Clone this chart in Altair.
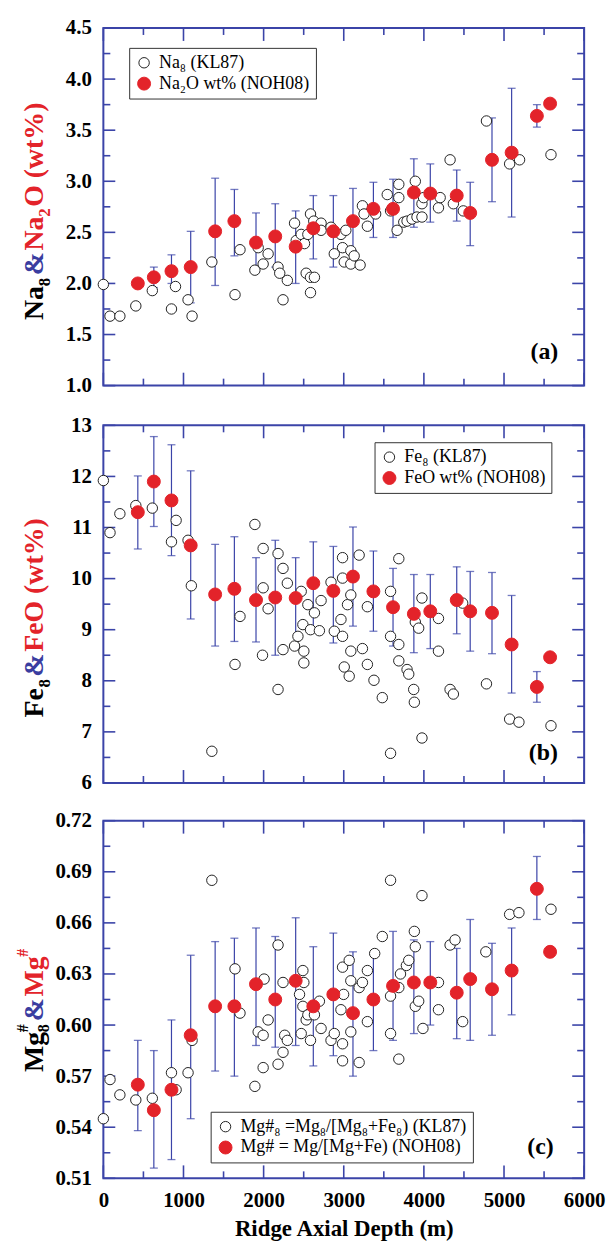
import altair as alt
import pandas as pd

FONT = "Liberation Serif, Times New Roman, serif"
BLUE = "#3b44a8"
AMP = "#3a3da0"
RED = "#e3232a"
INK = "#222222"
W, H = 484, 360

# NOH08 depth bins (shared by all three panels)
noh_depth = [430, 630, 850, 1090, 1395, 1635, 1905, 2145, 2400, 2620, 2870,
             3115, 3370, 3615, 3875, 4080, 4410, 4578, 4850, 5095, 5410, 5575]

# (a) Na
na_noh = [2.00, 2.06, 2.12, 2.16, 2.51, 2.61, 2.40, 2.46, 2.36, 2.54, 2.51,
          2.61, 2.73, 2.73, 2.89, 2.88, 2.86, 2.69, 3.21, 3.28, 3.64, 3.76]
na_lo = [None, 1.96, 2.00, 1.81, 1.98, 2.27, 2.11, 2.16, 2.00, 2.24, 2.16,
         2.32, 2.45, 2.45, 2.55, 2.60, 2.61, 2.37, 2.80, 2.65, 3.53, None]
na_hi = [None, 2.16, 2.28, 2.51, 3.03, 2.92, 2.69, 2.78, 2.71, 2.86, 2.86,
         2.93, 2.99, 3.02, 3.22, 3.17, 3.11, 2.99, 3.62, 3.91, 3.75, None]
na_kl_depth = [0, 83, 206, 405, 611, 850, 900, 1057, 1107, 1354, 1643, 1705, 1891, 1932,
               1994, 2056, 2180, 2201, 2242, 2296, 2386, 2407, 2469, 2510, 2531, 2552,
               2585, 2585, 2585, 2626, 2634, 2717, 2717, 2841, 2882, 2965, 2985, 3006,
               3026, 3088, 3088, 3130, 3204, 3233, 3253, 3295, 3398, 3543, 3584, 3666,
               3687, 3687, 3749, 3790, 3852, 3893, 3914, 3976, 3976, 3996, 4182, 4203,
               4327, 4368, 4492, 4781, 5070, 5194, 5586]
na_kl = [1.99, 1.68, 1.68, 1.78, 1.93, 1.75, 1.97, 1.84, 1.68, 2.21, 1.89, 2.33, 2.13, 2.35,
         2.19, 2.29, 2.16, 2.10, 1.84, 2.03, 2.59, 2.42, 2.48, 2.39, 2.10, 2.48,
         2.06, 1.91, 2.68, 2.61, 2.06, 2.59, 2.52, 2.55, 2.29, 2.48, 2.35, 2.21,
         2.52, 2.32, 2.19, 2.27, 2.18, 2.76, 2.68, 2.56, 2.68, 2.87, 2.71, 2.52,
         2.97, 2.84, 2.60, 2.61, 2.63, 3.00, 2.65, 2.65, 2.78, 2.84, 2.74, 2.84,
         3.21, 2.78, 2.71, 3.59, 3.17, 3.21, 3.26]

# (b) Fe
fe_noh = [11.30, 11.90, 11.53, 10.65, 9.69, 9.80, 9.58, 9.63, 9.62, 9.91, 9.76,
          10.04, 9.75, 9.44, 9.31, 9.36, 9.58, 9.36, 9.33, 8.71, 7.88, 8.46]
fe_lo = [10.58, 11.02, 10.45, 9.21, 8.68, 8.77, 8.76, 8.50, 8.68, 9.03, 8.74,
         9.07, 8.97, 8.68, 8.55, 8.63, 8.92, 8.58, 8.53, 7.76, 7.58, None]
fe_hi = [12.01, 12.78, 12.62, 12.11, 10.67, 10.82, 10.41, 10.75, 10.41, 10.72, 10.63,
         11.01, 10.54, 10.20, 10.08, 10.08, 10.23, 10.14, 10.12, 9.67, 8.18, None]
fe_kl_depth = [0, 83, 206, 405, 611, 850, 908, 1057, 1098, 1354, 1643, 1705, 1891, 1994,
               1994, 1986, 2056, 2180, 2180, 2242, 2296, 2242, 2386, 2428, 2469, 2490,
               2502, 2502, 2552, 2585, 2634, 2696, 2717, 2841, 2882, 2985, 2985, 2985,
               3006, 2965, 3047, 3068, 3088, 3088, 3192, 3233, 3295, 3295, 3377, 3481,
               3584, 3584, 3584, 3687, 3687, 3687, 3790, 3811, 3873, 3881, 3893, 3935,
               3976, 3976, 4182, 4182, 4327, 4368, 4484, 4781, 5070, 5186, 5586]
fe_kl = [11.92, 10.90, 11.27, 11.43, 11.38, 10.72, 11.14, 10.75, 9.86, 6.62, 8.32, 9.26, 11.06, 10.59,
         9.82, 8.50, 9.41, 10.49, 7.83, 10.20, 9.91, 8.61, 8.68, 8.87, 9.75, 9.10,
         8.58, 8.35, 9.49, 9.00, 9.33, 8.98, 9.57, 9.93, 8.97, 10.41, 10.01, 8.87,
         8.27, 9.20, 9.49, 8.09, 9.68, 8.58, 10.46, 8.63, 8.32, 9.45, 8.01, 7.67,
         9.75, 8.87, 6.58, 10.39, 8.71, 8.39, 8.22, 8.13, 7.83, 7.58, 9.15, 9.03,
         9.62, 6.88, 9.22, 8.58, 7.83, 7.74, 9.52, 7.94, 7.25, 7.19, 7.12]

# (c) Mg#
mg_noh = [0.565, 0.550, 0.562, 0.594, 0.611, 0.611, 0.624, 0.615, 0.626, 0.611, 0.618,
          0.607, 0.615, 0.623, 0.625, 0.625, 0.619, 0.627, 0.621, 0.632, 0.680, 0.643]
mg_lo = [0.538, 0.516, 0.521, 0.545, 0.573, 0.570, 0.588, 0.587, 0.588, 0.576, 0.582,
         0.570, 0.585, 0.591, 0.595, 0.600, 0.592, 0.591, 0.594, 0.606, 0.662, None]
mg_hi = [0.591, 0.585, 0.603, 0.641, 0.649, 0.651, 0.657, 0.652, 0.663, 0.646, 0.654,
         0.643, 0.642, 0.655, 0.650, 0.649, 0.645, 0.662, 0.648, 0.657, 0.699, None]
mg_kl_depth = [0, 83, 206, 405, 611, 850, 908, 1057, 1107, 1354, 1643, 1705, 1891, 1932,
               1994, 1994, 2006, 2056, 2180, 2180, 2242, 2242, 2263, 2296, 2469, 2490,
               2502, 2448, 2490, 2531, 2552, 2585, 2634, 2696, 2717, 2841, 2882, 2985,
               2985, 2965, 2985, 2998, 3068, 3088, 3088, 3192, 3192, 3233, 3295, 3295,
               3386, 3481, 3584, 3584, 3584, 3687, 3687, 3708, 3782, 3811, 3881, 3893,
               3893, 3935, 3976, 3988, 4182, 4182, 4327, 4389, 4484, 4773, 5070, 5186, 5586]
mg_kl = [0.545, 0.568, 0.559, 0.556, 0.557, 0.572, 0.562, 0.572, 0.591, 0.685, 0.633, 0.607, 0.564, 0.596,
         0.594, 0.575, 0.627, 0.603, 0.647, 0.577, 0.625, 0.584, 0.594, 0.591, 0.595, 0.632,
         0.625, 0.618, 0.611, 0.603, 0.606, 0.591, 0.606, 0.614, 0.598, 0.591, 0.595, 0.589,
         0.579, 0.609, 0.634, 0.618, 0.638, 0.626, 0.596, 0.578, 0.622, 0.625, 0.632, 0.602,
         0.642, 0.652, 0.685, 0.617, 0.595, 0.622, 0.580, 0.630, 0.635, 0.638, 0.655, 0.646,
         0.611, 0.614, 0.676, 0.598, 0.625, 0.609, 0.647, 0.650, 0.602, 0.643, 0.665, 0.666, 0.668]

x_major = [0, 1000, 2000, 3000, 4000, 5000, 6000]
x_minor = [500, 1500, 2500, 3500, 4500, 5500]


def title_layers(pieces):
    layers = []
    for text, y, size, dy, color in pieces:
        layers.append(
            alt.Chart(pd.DataFrame({"t": [text]})).mark_text(
                angle=270, align="left", baseline="alphabetic", font=FONT,
                fontWeight="bold", fontSize=size, color=color, dy=dy,
            ).encode(x=alt.value(-61), y=alt.value(y), text="t:N")
        )
    return layers


def panel(kl_x, kl_y, noh_y, lo, hi, names, domain, y_major, y_minor, fmt,
          legend_xy, tag, tag_xy, pieces, show_x):
    xscale = alt.Scale(domain=[0, 6000], nice=False, zero=False)
    yscale = alt.Scale(domain=domain, nice=False, zero=False)
    if show_x:
        xaxis = alt.Axis(values=x_major, format="d", labelFont=FONT, labelFontSize=21,
                         labelFontWeight="bold", labelColor="black", labelPadding=11,
                         ticks=False, tickSize=0, domain=False, grid=False, labelFlush=False,
                         title="Ridge Axial Depth (m)", titleFont=FONT, titleFontSize=23,
                         titleFontWeight="bold", titleColor="black", titlePadding=8)
    else:
        xaxis = None
    yaxis = alt.Axis(values=y_major, format=fmt, labelFont=FONT, labelFontSize=21,
                     labelFontWeight="bold", labelColor="black", labelPadding=12,
                     ticks=False, tickSize=0, domain=False, grid=False, labelFlush=False,
                     labelOverlap=False, title=None)

    def xenc(f):
        return alt.X(f, type="quantitative", scale=xscale, axis=xaxis)

    def yenc(f):
        return alt.Y(f, type="quantitative", scale=yscale, axis=yaxis)

    ticks = []
    for vals, ln in [(x_major, 13), (x_minor, 7)]:
        d = pd.DataFrame({"depth": vals})
        ticks.append(alt.Chart(d).mark_rule(color=BLUE, strokeWidth=1.6).encode(
            x=xenc("depth"), y=alt.value(H), y2=alt.value(H - ln)))
        ticks.append(alt.Chart(d).mark_rule(color=BLUE, strokeWidth=1.6).encode(
            x=xenc("depth"), y=alt.value(0), y2=alt.value(ln)))
    for vals, ln in [(y_major, 12), (y_minor, 7)]:
        d = pd.DataFrame({"value": vals})
        ticks.append(alt.Chart(d).mark_rule(color=BLUE, strokeWidth=1.6).encode(
            y=yenc("value"), x=alt.value(0), x2=alt.value(ln)))
        ticks.append(alt.Chart(d).mark_rule(color=BLUE, strokeWidth=1.6).encode(
            y=yenc("value"), x=alt.value(W), x2=alt.value(W - ln)))

    err = pd.DataFrame({"depth": noh_depth, "lo": lo, "hi": hi}).dropna()
    bars = alt.Chart(err).mark_rule(color=BLUE, strokeWidth=1.2).encode(
        x=xenc("depth"), y=yenc("lo"), y2=alt.Y2("hi"))
    cap_lo = alt.Chart(err).mark_tick(orient="horizontal", size=8, thickness=1.3, color=BLUE).encode(
        x=xenc("depth"), y=yenc("lo"))
    cap_hi = alt.Chart(err).mark_tick(orient="horizontal", size=8, thickness=1.3, color=BLUE).encode(
        x=xenc("depth"), y=yenc("hi"))

    pts = pd.concat([
        pd.DataFrame({"depth": kl_x, "value": kl_y, "series": names[0]}),
        pd.DataFrame({"depth": noh_depth, "value": noh_y, "series": names[1]}),
    ], ignore_index=True)
    legend = alt.Legend(orient="none", legendX=legend_xy[0], legendY=legend_xy[1], title=None,
                        strokeColor="#333333", fillColor="white", padding=6,
                        labelFont=FONT, labelFontSize=18, labelColor="black", labelLimit=400,
                        rowPadding=3, labelOffset=6, symbolStrokeWidth=1)
    points = alt.Chart(pts).mark_circle(opacity=1, strokeWidth=1).encode(
        x=xenc("depth"),
        y=yenc("value"),
        fill=alt.Fill("series:N", scale=alt.Scale(domain=names, range=["white", RED]), legend=legend),
        stroke=alt.Stroke("series:N", scale=alt.Scale(domain=names, range=[INK, RED]), legend=legend),
        size=alt.Size("series:N", scale=alt.Scale(domain=names, range=[110, 170]), legend=legend),
    )

    label = alt.Chart(pd.DataFrame({"t": [tag]})).mark_text(
        font=FONT, fontWeight="bold", fontSize=24, align="center", baseline="middle", color="black"
    ).encode(x=alt.value(tag_xy[0]), y=alt.value(tag_xy[1]), text="t:N")

    return alt.layer(*ticks, bars, cap_lo, cap_hi, points, label,
                     *title_layers(pieces)).properties(width=W, height=H)


pa = panel(
    na_kl_depth, na_kl, na_noh, na_lo, na_hi,
    ["Na₈ (KL87)", "Na₂O wt% (NOH08)"], [1.0, 4.5],
    [1.0, 1.5, 2.0, 2.5, 3.0, 3.5, 4.0, 4.5],
    [1.25, 1.75, 2.25, 2.75, 3.25, 3.75, 4.25], ".1f",
    (26, 20), "(a)", (444, 326),
    [("Na", 294, 28, 0, "black"), ("8", 260, 17, 7, "black"), ("&", 249, 28, 0, AMP),
     ("Na", 224, 28, 0, RED), ("2", 190, 17, 7, RED), ("O (wt%)", 180, 28, 0, RED)],
    False,
)
pb = panel(
    fe_kl_depth, fe_kl, fe_noh, fe_lo, fe_hi,
    ["Fe₈ (KL87)", "FeO wt% (NOH08)"], [6, 13],
    [6, 7, 8, 9, 10, 11, 12, 13],
    [6.5, 7.5, 8.5, 9.5, 10.5, 11.5, 12.5], "d",
    (273, 17), "(b)", (443, 330),
    [("Fe", 294, 28, 0, "black"), ("8", 264, 17, 7, "black"), ("&", 253, 28, 0, AMP),
     ("FeO (wt%)", 228, 28, 0, RED)],
    False,
)
pc = panel(
    mg_kl_depth, mg_kl, mg_noh, mg_lo, mg_hi,
    ["Mg#₈ =Mg₈/[Mg₈+Fe₈) (KL87)", "Mg# = Mg/[Mg+Fe) (NOH08)"], [0.51, 0.72],
    [0.51, 0.54, 0.57, 0.60, 0.63, 0.66, 0.69, 0.72],
    [0.525, 0.555, 0.585, 0.615, 0.645, 0.675, 0.705], ".2f",
    (108, 293), "(c)", (440, 329),
    [("Mg", 253, 28, 0, "black"), ("#", 213, 16, -15, "black"), ("8", 213, 16, 6, "black"),
     ("&", 202, 28, 0, AMP), ("Mg", 177, 28, 0, RED), ("#", 137, 16, -15, RED)],
    True,
)

top = alt.vconcat(pa, pb, spacing=17).resolve_scale(
    fill="independent", stroke="independent", size="independent")
chart = alt.vconcat(top, pc, spacing=15).resolve_scale(
    fill="independent", stroke="independent", size="independent"
).properties(
    padding={"left": 6, "top": 4, "right": 0, "bottom": 0}
).configure_view(stroke=BLUE, strokeWidth=2)

chart.save("out.html", embed_options={"renderer": "svg", "actions": False})
